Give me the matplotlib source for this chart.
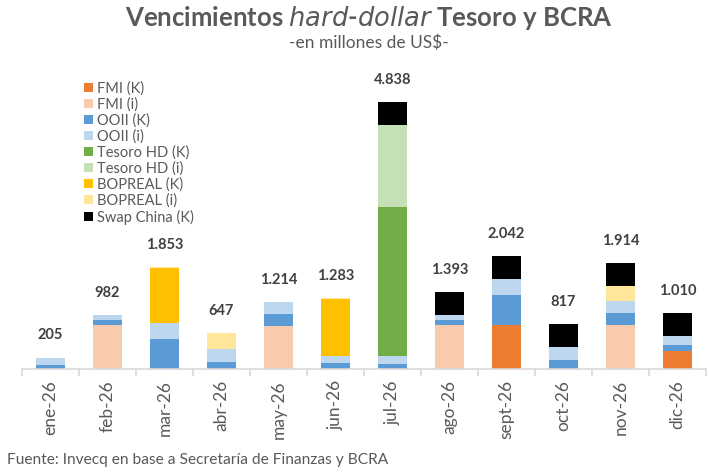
import matplotlib.pyplot as plt
from matplotlib.patches import Patch
import numpy as np

# Datos (millones de US$)
meses = ['ene-26', 'feb-26', 'mar-26', 'abr-26', 'may-26', 'jun-26',
         'jul-26', 'ago-26', 'sept-26', 'oct-26', 'nov-26', 'dic-26']
fmi_k = [0, 0, 0, 0, 0, 0, 0, 0, 790, 0, 0, 330]
fmi_i = [0, 800, 0, 0, 785, 0, 0, 800, 0, 0, 800, 0]
ooii_k = [80, 91, 544, 130, 211, 109, 91, 91, 545, 165, 218, 112]
ooii_i = [125, 91, 290, 240, 218, 133, 145, 85, 290, 235, 207, 151]
tesoro_k = [0, 0, 0, 0, 0, 0, 2700, 0, 0, 0, 0, 0]
tesoro_i = [0, 0, 0, 0, 0, 0, 1486, 0, 0, 0, 0, 0]
bopreal_k = [0, 0, 1002, 0, 0, 1027, 0, 0, 0, 0, 0, 0]
bopreal_i = [0, 0, 17, 277, 0, 14, 0, 0, 0, 0, 272, 0]
swap_china = [0, 0, 0, 0, 0, 0, 416, 417, 417, 417, 417, 417]
totales = [205, 982, 1853, 647, 1214, 1283, 4838, 1393, 2042, 817, 1914, 1010]

series = [
    ('FMI (K)', fmi_k, '#ED7D31'),
    ('FMI (i)', fmi_i, '#F8CBAD'),
    ('OOII (K)', ooii_k, '#5B9BD5'),
    ('OOII (i)', ooii_i, '#BDD7EE'),
    ('Tesoro HD (K)', tesoro_k, '#70AD47'),
    ('Tesoro HD (i)', tesoro_i, '#C5E0B4'),
    ('BOPREAL (K)', bopreal_k, '#FFC000'),
    ('BOPREAL (i)', bopreal_i, '#FFE699'),
    ('Swap China (K)', swap_china, '#000000'),
]

gris = '#595959'
plt.rcParams['font.family'] = ['Lato', 'DejaVu Sans']

fig = plt.figure(figsize=(7.09, 4.72), dpi=100)
ax = fig.add_axes([22 / 709, 1 - 369 / 472, 684 / 709, 309 / 472])

x = np.arange(len(meses))
base = np.zeros(len(meses))
for nombre, valores, color in series:
    ax.bar(x, valores, width=0.51, bottom=base, color=color, label=nombre)
    base += np.array(valores)

# Etiquetas de totales
for xi, tot in zip(x, totales):
    txt = f'{tot:,}'.replace(',', '.')
    ax.annotate(txt, (xi, tot), xytext=(0, 16), textcoords='offset points',
                ha='center', va='center', fontsize=10.5, fontweight='bold',
                color='#404040')

ax.set_xlim(-0.5, len(meses) - 0.5)
ax.set_ylim(0, 5600)
for s in ['top', 'right', 'left']:
    ax.spines[s].set_visible(False)
ax.spines['bottom'].set_color('#D9D9D9')
ax.spines['bottom'].set_linewidth(1.2)
ax.set_yticks([])
ax.set_xticks(x)
ax.set_xticklabels(meses, rotation=90, fontsize=12.5, color=gris)
ax.tick_params(axis='x', which='major', length=0, pad=8)
ax.set_xticks(np.arange(len(meses) + 1) - 0.5, minor=True)
ax.tick_params(axis='x', which='minor', length=5, color='#D9D9D9', width=1.2)

# Leyenda
handles = [Patch(facecolor=c, edgecolor='none') for _, _, c in series]
labels = [n for n, _, _ in series]
fig.legend(handles, labels, loc='upper left', bbox_to_anchor=(84 / 709, 1 - 81 / 472),
           frameon=False, fontsize=10.5, labelcolor=gris, handlelength=0.6,
           handleheight=0.6, handletextpad=0.3, labelspacing=0.12,
           borderpad=0, borderaxespad=0)

# Títulos
fig.text(0.52, 1 - 18 / 472, r'Vencimientos $\bf{\it{hard}}$-$\bf{\it{dollar}}$ Tesoro y BCRA',
         ha='center', va='center', fontsize=18.5, fontweight='bold', color=gris)
fig.text(0.52, 1 - 43 / 472, '-en millones de US$-', ha='center', va='center',
         fontsize=12.5, color=gris)
fig.text(7 / 709, 1 - 460 / 472, 'Fuente: Invecq en base a Secretaría de Finanzas y BCRA',
         ha='left', va='center', fontsize=11.2, color=gris)

fig.savefig('out.png', dpi=100)
